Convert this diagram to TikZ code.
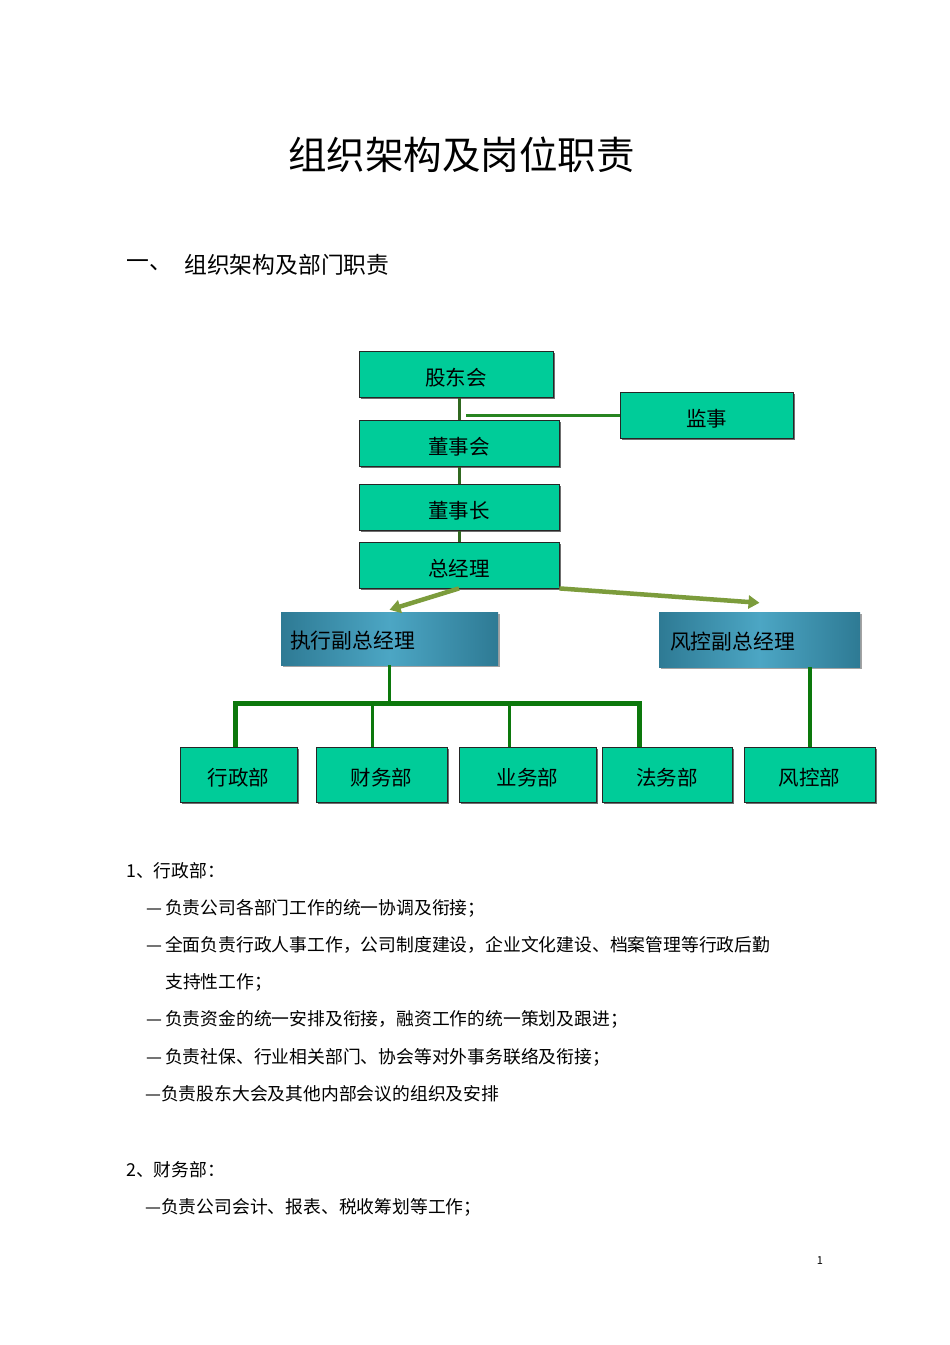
\documentclass[tikz,border=0pt]{standalone}
\usepackage{fontspec}
\newfontfamily\cjk{Noto Sans CJK SC}
\usetikzlibrary{arrows.meta,shadows,positioning}
\definecolor{boxgreen}{RGB}{0,204,153}
\definecolor{viceedge}{RGB}{46,122,148}
\definecolor{vicemid}{RGB}{76,166,196}
\definecolor{chaingreen}{RGB}{48,104,32}
\definecolor{tiegreen}{RGB}{40,132,32}
\definecolor{busgreen}{RGB}{12,120,12}
\definecolor{olivearrow}{RGB}{124,156,60}

\tikzset{
  post/.style={draw=black!85, line width=0.8pt, fill=boxgreen, minimum height=46pt, inner sep=0pt,
    text height=22.6pt, text depth=0pt,
    drop shadow={shadow xshift=1.5pt, shadow yshift=-1.5pt, fill=black!70, opacity=0.8},
    font=\cjk\fontsize{20.5}{22}\selectfont},
  dept/.style={post, minimum height=55pt},
  vice/.style={left color=viceedge, right color=viceedge, middle color=vicemid, minimum height=53pt, inner ysep=0pt,
    text height=20.8pt, text depth=0pt, align=left,
    drop shadow={shadow xshift=2pt, shadow yshift=-2pt, fill=black!45, opacity=0.8},
    font=\cjk\fontsize{20.8}{22}\selectfont},
  chain/.style={draw=chaingreen, line width=3pt},
  tie/.style={draw=tiegreen, line width=3pt},
  bus/.style={draw=busgreen, line width=5pt},
  drop/.style={draw=busgreen, line width=3pt},
  pointer/.style={draw=olivearrow, line width=4.5pt, -{Triangle[length=11pt,width=13pt]}},
  heading/.style={anchor=west, inner sep=0pt, font=\cjk\fontsize{22.8}{24}\selectfont},
  body/.style={anchor=west, inner sep=0pt, font=\cjk\fontsize{17.8}{20}\selectfont},
}

\begin{document}
\begin{tikzpicture}[x=1pt, y=-1pt, font=\cjk]
  \fill[white] (0,0) rectangle (950,1345);
  \useasboundingbox (0,0) rectangle (950,1345);

  % titles
  \node[font=\cjk\fontsize{38.5}{40}\selectfont] (title) at (461.5,155) {组织架构及岗位职责};
  \node[heading] (secno) at (126,265) {一、};
  \node[heading] (sec) at (184,265) {组织架构及部门职责};

  % upper posts
  \node[post, minimum width=194pt] (gdh) at (456,374.5) {股东会};
  \node[post, minimum width=173pt] (js) at (706.5,415) {监事};
  \node[post, minimum width=200pt] (dsh) at (459,443.5) {董事会};
  \node[post, minimum width=200pt] (dsz) at (459,507.5) {董事长};
  \node[post, minimum width=200pt] (zjl) at (459,565) {总经理};

  % vice managers
  \node[vice, text width=199pt, inner xsep=9pt] (zxf) at (389.5,638.5) {执行副总经理};
  \node[vice, text width=179pt, inner xsep=11pt, minimum height=55pt] (fkf) at (759.5,639.5) {风控副总经理};

  % departments
  \node[dept, minimum width=117pt] (xzb) at (238.5,774.5) {行政部};
  \node[dept, minimum width=131pt] (cwb) at (381.5,774.5) {财务部};
  \node[dept, minimum width=137pt] (ywb) at (527.5,774.5) {业务部};
  \node[dept, minimum width=130pt] (fwb) at (667,774.5) {法务部};
  \node[dept, minimum width=131pt] (fkb) at (809.5,774.5) {风控部};

  % connectors
  \coordinate (jsend) at (466,415);
  \coordinate (bus) at (389.5,703);
  \draw[chain] (dsh.north) -- (dsh.north |- gdh.south);
  \draw[chain] (dsh.south) -- (dsz.north);
  \draw[chain] (dsz.south) -- (zjl.north);
  \draw[tie] (js.west) -- (jsend);
  \draw[pointer] (zjl.south) -- ([yshift=2pt]zxf.north);
  \draw[pointer] (zjl.south east) -- ([yshift=9pt]fkf.north);
  \draw[drop, line width=3.5pt] (zxf.south) -- (bus);
  \draw[bus] ([xshift=-3.5pt]xzb.north) |- (bus) -| ([xshift=-28pt]fwb.north);
  \draw[drop] ([xshift=-9.5pt]cwb.north) -- ++(0,-44);
  \draw[drop] ([xshift=-18.5pt]ywb.north) -- ++(0,-44);
  \draw[bus, line width=4pt] (fkb.north) -- (fkb.north |- fkf.south);

  % duties
  \node[body] (d1) at (126,871) {1、行政部：};
  \node[body] (d1a) at (146,908) {—\hspace{3pt}负责公司各部门工作的统一协调及衔接；};
  \node[body] (d1b) at (146,945) {—\hspace{3pt}全面负责行政人事工作，公司制度建设，企业文化建设、档案管理等行政后勤};
  \node[body] (d1c) at (165,982) {支持性工作；};
  \node[body] (d1d) at (146,1019) {—\hspace{3pt}负责资金的统一安排及衔接，融资工作的统一策划及跟进；};
  \node[body] (d1e) at (146,1057) {—\hspace{3pt}负责社保、行业相关部门、协会等对外事务联络及衔接；};
  \node[body] (d1f) at (145,1094) {—负责股东大会及其他内部会议的组织及安排};
  \node[body] (d2) at (126,1170) {2、财务部：};
  \node[body] (d2a) at (145,1207) {—负责公司会计、报表、税收筹划等工作；};

  \node[font=\cjk\fontsize{11}{12}\selectfont] (pg) at (820,1261) {1};
\end{tikzpicture}
\end{document}
